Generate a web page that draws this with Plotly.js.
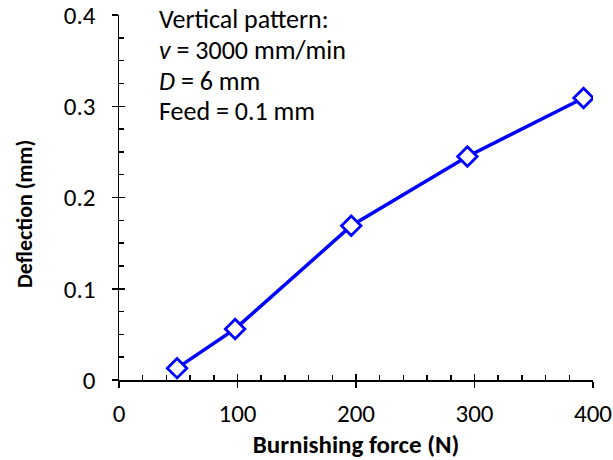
<!DOCTYPE html>
<html>
<head>
<meta charset="utf-8">
<script src="https://cdn.plot.ly/plotly-3.0.1.min.js"></script>
<style>body{margin:0;padding:0;background:#fff}#chart{width:613px;height:460px}</style>
</head>
<body>
<div id="chart"></div>
<script>
var force = [49, 98, 196, 294, 392];
var deflection = [0.013, 0.056, 0.169, 0.245, 0.309];
var deflectionErr = [0.004, 0.002, 0.003, 0.004, 0.002];
var xTicks = [0, 100, 200, 300, 400];
var yTicks = [0, 0.1, 0.2, 0.3, 0.4];
var xTitle = "Burnishing force (N)";
var yTitle = "Deflection (mm)";
var noteLines = ["Vertical pattern:", "<i>v</i> = 3000 mm/min", "<i>D</i> = 6 mm", "Feed = 0.1 mm"];

var FONT = "Carlito, Calibri, 'Open Sans', sans-serif";

var traces = [
  {
    x: force, y: deflection, type: 'scatter', mode: 'lines+markers',
    line: {color: '#0000ff', width: 3.5},
    marker: {symbol: 'diamond', size: 15, color: '#ffffff', line: {width: 2.8, color: '#0000ff'}},
    error_y: {type: 'data', array: deflectionErr, visible: true, color: '#000', thickness: 1, width: 5},
    showlegend: false, hoverinfo: 'x+y'
  },
  {
    x: [0], y: [0], xaxis: 'x2', yaxis: 'y2', type: 'scatter', mode: 'markers',
    marker: {opacity: 0}, showlegend: false, hoverinfo: 'skip'
  }
];

var axisCommon = {
  showgrid: false, zeroline: false, showline: true, linecolor: '#000', linewidth: 1.5,
  tickcolor: '#000', tickwidth: 1.5, ticklen: 6, automargin: false, ticklabeloverflow: 'allow'
};

var plotLeft = 119, plotW = 474, plotTop = 15, plotH = 365;
function px(p) { return (p - plotLeft) / plotW; }
function py(p) { return 1 - (p - plotTop) / plotH; }
var lineCenters = [19, 50, 81, 111];

var annotations = noteLines.map(function (t, i) {
  return {
    xref: 'paper', yref: 'paper', x: px(157), y: py(lineCenters[i]),
    xanchor: 'left', yanchor: 'middle', showarrow: false, align: 'left',
    text: t, font: {size: 26, family: FONT, color: '#000'}
  };
});
annotations.push({
  xref: 'paper', yref: 'paper', x: px(24), y: py(214),
  xanchor: 'center', yanchor: 'middle', showarrow: false, textangle: -90,
  text: '<b>' + yTitle + '</b>', font: {size: 22, family: FONT, color: '#000'}
});

var layout = {
  width: 613, height: 460,
  margin: {l: plotLeft, r: 613 - plotLeft - plotW, t: plotTop, b: 460 - plotTop - plotH},
  paper_bgcolor: '#fff', plot_bgcolor: '#fff',
  font: {family: FONT, color: '#000', size: 25},
  xaxis: Object.assign({}, axisCommon, {
    range: [0, 400], tickmode: 'array', tickvals: xTicks, ticktext: xTicks.map(String),
    ticks: 'outside', tickfont: {size: 25, family: FONT}, ticklabelstandoff: 4,
    title: {text: '<b>' + xTitle + '</b>', font: {size: 25, family: FONT}, standoff: 4}
  }),
  yaxis: Object.assign({}, axisCommon, {
    range: [0, 0.4], tickmode: 'array', tickvals: yTicks, ticktext: yTicks.map(String),
    ticks: 'outside', tickfont: {size: 25, family: FONT}, ticklabelstandoff: 11
  }),
  xaxis2: Object.assign({}, axisCommon, {
    overlaying: 'x', anchor: 'y2', range: [0, 400], dtick: 100, tick0: 0,
    ticks: 'inside', showticklabels: false,
    minor: {ticks: 'inside', dtick: 20, ticklen: 5, tickcolor: '#000', tickwidth: 1.5}
  }),
  yaxis2: Object.assign({}, axisCommon, {
    overlaying: 'y', anchor: 'x2', range: [0, 0.4], dtick: 0.1, tick0: 0,
    ticks: 'inside', showticklabels: false,
    minor: {ticks: 'inside', dtick: 0.025, ticklen: 5, tickcolor: '#000', tickwidth: 1.5}
  }),
  annotations: annotations
};

Plotly.newPlot('chart', traces, layout, {displayModeBar: false, staticPlot: true});
</script>
</body>
</html>
